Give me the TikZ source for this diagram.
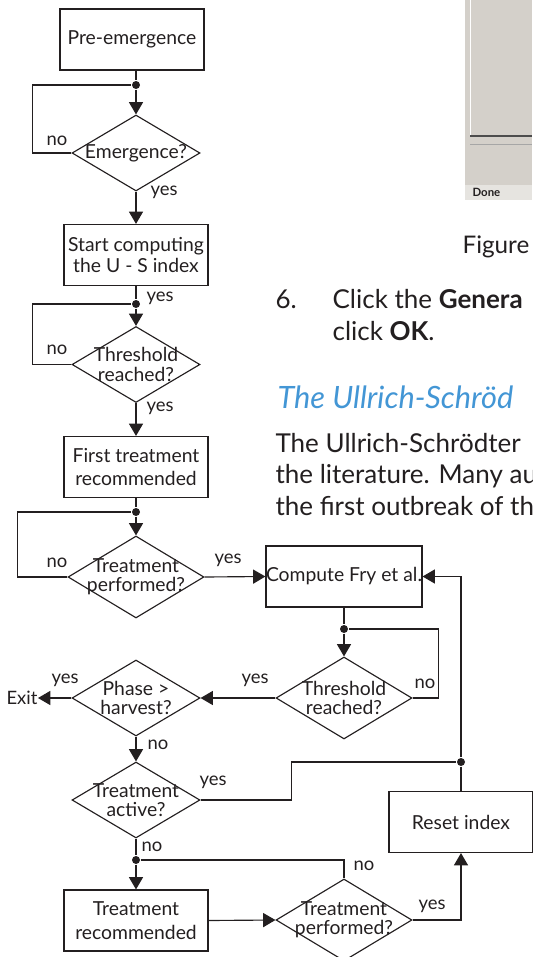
\documentclass[tikz,border=0pt]{standalone}
\usepackage{fontspec}
\setmainfont{Lato}
\usetikzlibrary{arrows.meta,shapes.geometric}
\definecolor{ink}{HTML}{231F20}
\definecolor{headblue}{HTML}{4396D5}
\definecolor{panel}{HTML}{D4D0CA}
\definecolor{statusbar}{HTML}{E6E4E0}

\begin{document}
\begin{tikzpicture}[x=0.02cm, y=-0.02cm, line width=0.65pt, color=ink,
  box/.style={draw, minimum width=2.88cm, minimum height=1.22cm, inner sep=0pt, align=center, font=\fontsize{11}{11.5}\selectfont},
  dia/.style={diamond, draw, minimum width=2.56cm, minimum height=1.52cm, inner sep=0pt},
  bigdia/.style={dia, minimum width=2.72cm, minimum height=1.64cm},
  dot/.style={circle, fill=ink, inner sep=0pt, minimum size=0.16cm},
  lbl/.style={inner sep=0pt, align=center, font=\fontsize{10.5}{11}\selectfont},
  dlbl/.style={inner sep=0pt, align=center, font=\fontsize{11}{11}\selectfont},
  txt/.style={anchor=base west, inner sep=0pt, font=\fontsize{14.8}{18}\selectfont},
  arr/.style={-{Triangle[length=7pt,width=8pt]}}]
\useasboundingbox (0,0) rectangle (532,957);

\fill[panel] (465,0) rectangle (532,200);
\fill[statusbar] (465,185) rectangle (532,200);
\draw[white, line width=0.8pt] (470.5,0) -- (470.5,136);
\draw[black!70, line width=0.9pt] (470,136) -- (532,136);
\draw[black!35, line width=0.5pt] (470,144) -- (532,144);
\node[anchor=base west, inner sep=0pt, font=\fontsize{6.5}{7}\selectfont\bfseries] (done) at (472,196) {Done};
\node[anchor=base west, inner sep=0pt, font=\fontsize{13.8}{16}\selectfont] (fig) at (462,253) {Figure};
\node[txt] (num) at (275,308) {6.};
\node[txt] (step1) at (332,308) {Click the \textbf{Genera}};
\node[txt] (step2) at (332,340) {click \textbf{OK}.};
\node[txt, font=\fontsize{17.5}{20}\selectfont\itshape, text=headblue] (head) at (277,408) {The Ullrich-Schröd};
\node[txt] (body1) at (275,452) {The Ullrich-Schrödter};
\node[txt] (body2) at (275,483) {the literature. Many au};
\node[txt] (body3) at (275,515) {the first outbreak of th};

\node[box] (pre) at (132,39.5) {Pre-emergence};
\node[dot] (j1) at (136,85) {};
\node[dia, label={[dlbl]center:Emergence?}] (emerg) at (136,153) {};
\node[box] (start) at (136,255) {Start computing\\the U - S index};
\node[dot] (j2) at (136,304) {};
\node[dia, label={[dlbl]center:Threshold\\reached?}] (thr1) at (136,364.5) {};
\node[box] (first) at (136,467) {First treatment\\[2pt]recommended};
\node[dot] (j3) at (136,512) {};
\node[bigdia, label={[dlbl]center:Treatment\\performed?}] (perf1) at (136,577) {};
\node[box] (fry) at (344,576.5) {Compute Fry et al.};
\node[dot] (j4) at (344,629) {};
\node[bigdia, label={[dlbl]center:Threshold\\reached?}] (thr2) at (344,698) {};
\node[dia, label={[dlbl]center:Phase >\\harvest?}] (phase) at (136,698) {};
\node[lbl] (exit) at (22,698) {Exit};
\node[dia, label={[dlbl]center:Treatment\\active?}] (active) at (136,800) {};
\node[dot] (j5) at (461,762) {};
\node[box] (reset) at (461,822) {Reset index};
\node[dot] (j6) at (136,860) {};
\node[box] (rec) at (136,920.5) {Treatment\\[2pt]recommended};
\node[bigdia, label={[dlbl]center:Treatment\\performed?}] (perf2) at (344,920) {};

\node[lbl] (no1) at (57,141) {no};
\node[lbl] (yes1) at (164,192) {yes};
\node[lbl] (yes2) at (160,298) {yes};
\node[lbl] (no2) at (57,350) {no};
\node[lbl] (yes3) at (160,408) {yes};
\node[lbl] (no3) at (57,563) {no};
\node[lbl] (yes4) at (228,560) {yes};
\node[lbl] (no4) at (425,684) {no};
\node[lbl] (yes5) at (255,680) {yes};
\node[lbl] (yes6) at (65,680) {yes};
\node[lbl] (no5) at (158,745) {no};
\node[lbl] (yes7) at (213,782) {yes};
\node[lbl] (no6) at (152,847) {no};
\node[lbl] (no7) at (364,866) {no};
\node[lbl] (yes8) at (432,906) {yes};

\draw (j1 |- pre.south) -- (j1);
\draw[arr] (j1) -- (emerg.north);
\draw (emerg.west) -- ++(-39,0) |- (j1);
\draw[arr] (emerg.south) -- (start.north);
\draw (start.south) -- (j2);
\draw[arr] (j2) -- (thr1.north);
\draw (thr1.west) -- ++(-39,0) |- (j2);
\draw[arr] (thr1.south) -- (first.north);
\draw (first.south) -- (j3);
\draw[arr] (j3) -- (perf1.north);
\draw (perf1.west) -- ++(-50,0) |- (j3);
\draw[arr] (perf1.east) -- (fry.west);
\draw (fry.south) -- (j4);
\draw[arr] (j4) -- (thr2.north);
\draw (thr2.east) -- ++(26,0) |- (j4);
\draw[arr] (thr2.west) -- (phase.east);
\draw[arr] (phase.west) -- (exit.east);
\draw[arr] (phase.south) -- (active.north);
\draw (active.east) -- ++(91,0) |- (j5);
\draw[arr] (j5) |- (fry.east);
\draw (j5) -- (reset.north);
\draw (active.south) -- (j6);
\draw[arr] (j6) -- (rec.north);
\draw (j6) -| (perf2.north);
\draw[arr] (rec.east) -- (perf2.west);
\draw[arr] (perf2.east) -| (reset.south);
\end{tikzpicture}
\end{document}
